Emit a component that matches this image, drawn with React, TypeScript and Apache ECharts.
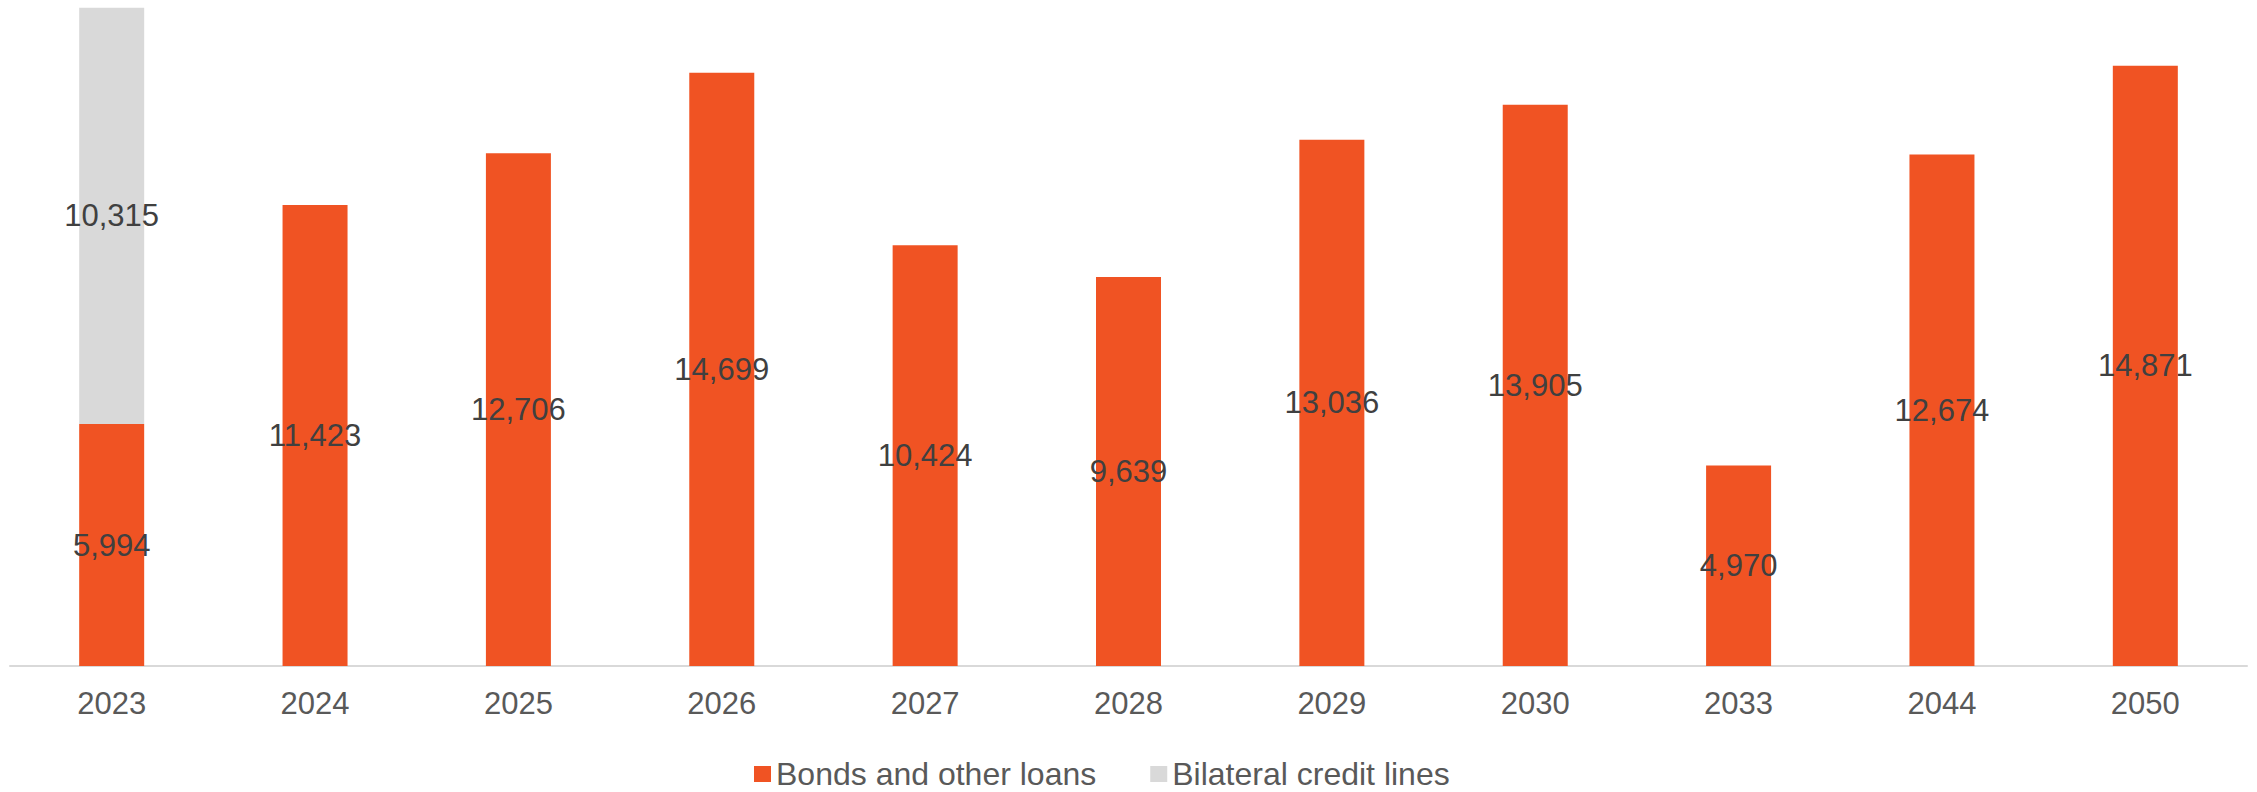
import React, { useEffect, useRef } from "react";
import * as echarts from "echarts";

const categories = ["2023", "2024", "2025", "2026", "2027", "2028", "2029", "2030", "2033", "2044", "2050"];
const bondsAndOtherLoans = [5994, 11423, 12706, 14699, 10424, 9639, 13036, 13905, 4970, 12674, 14871];
const bilateralCreditLines = [10315, null, null, null, null, null, null, null, null, null, null];
const seriesNames = ["Bonds and other loans", "Bilateral credit lines"];

const FONT = "'Liberation Sans', Arial, sans-serif";

export default function App() {
  const ref = useRef<HTMLDivElement>(null);
  useEffect(() => {
    if (!ref.current) return;
    const chart = echarts.init(ref.current, undefined, { renderer: "svg" });
    const label = {
      show: true,
      position: "inside",
      color: "#404040",
      fontSize: 31,
      fontFamily: FONT,
      formatter: (p: any) => (p.value == null ? "" : Number(p.value).toLocaleString("en-US")),
    };
    chart.setOption({
      animation: false,
      backgroundColor: "#ffffff",
      grid: { left: 10, right: 10, top: 0, bottom: 126 },
      legend: {
        data: seriesNames,
        top: 758,
        left: 754,
        padding: 0,
        itemWidth: 17,
        itemHeight: 16,
        itemGap: 54,
        icon: "rect",
        textStyle: { color: "#595959", fontSize: 32, fontFamily: FONT },
      },
      xAxis: {
        type: "category",
        data: categories,
        axisLine: { show: true, lineStyle: { color: "#D9D9D9", width: 2 } },
        axisTick: { show: false },
        axisLabel: { color: "#595959", fontSize: 31, fontFamily: FONT, margin: 22 },
      },
      yAxis: {
        type: "value",
        min: 0,
        max: 16500,
        show: false,
        splitLine: { show: false },
      },
      series: [
        {
          name: seriesNames[0],
          type: "bar",
          stack: "total",
          data: bondsAndOtherLoans,
          barWidth: 65,
          itemStyle: { color: "#F05323" },
          label,
        },
        {
          name: seriesNames[1],
          type: "bar",
          stack: "total",
          data: bilateralCreditLines,
          barWidth: 65,
          itemStyle: { color: "#D9D9D9" },
          label,
        },
      ],
    });
    return () => chart.dispose();
  }, []);
  return (
    <div
      ref={ref}
      style={{ position: "fixed", left: 0, top: 0, width: 2257, height: 792, background: "#fff" }}
    />
  );
}
